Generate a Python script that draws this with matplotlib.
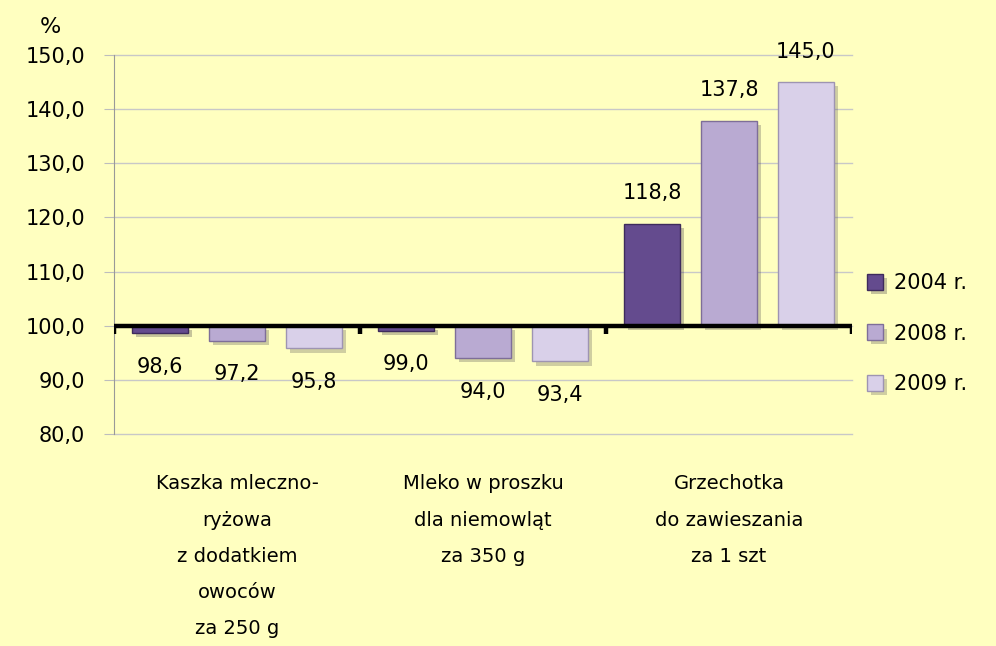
import matplotlib
matplotlib.use('Agg')
import matplotlib.pyplot as plt
import matplotlib.patheffects as pe
import numpy as np

# dane
categories = ['Kaszka mleczno-\nryżowa\nz dodatkiem\nowoców\nza 250 g',
              'Mleko w proszku\ndla niemowląt\nza 350 g',
              'Grzechotka\ndo zawieszania\nza 1 szt']
years = ['2004 r.', '2008 r.', '2009 r.']
v2004 = [98.6, 99.0, 118.8]
v2008 = [97.2, 94.0, 137.8]
v2009 = [95.8, 93.4, 145.0]
yticks = [80, 90, 100, 110, 120, 130, 140, 150]

series = [v2004, v2008, v2009]
faces = ['#644B8E', '#B9AAD2', '#D9D0E9']
edges = ['#3E2B5C', '#7E6E99', '#9E94B2']
bg = '#FFFFC0'
base = 100.0

fig = plt.figure(figsize=(9.96, 6.46), dpi=100, facecolor=bg)
ax = fig.add_axes([114/996, 1-434/646, (852-114)/996, (434-55)/646])
ax.set_facecolor(bg)

x = np.arange(len(categories))
width = 0.228
step = 0.313
shadow = [pe.SimplePatchShadow(offset=(3, -3), alpha=0.25), pe.Normal()]

for i, vals in enumerate(series):
    pos = x + (i - 1) * step
    h = [v - base for v in vals]
    bars = ax.bar(pos, h, width, bottom=base, color=faces[i], edgecolor=edges[i],
                  linewidth=1, label=years[i], zorder=3)
    for b in bars:
        b.set_path_effects(shadow)
    for p, v in zip(pos, vals):
        lab = f'{v:.1f}'.replace('.', ',')
        off = 22 if v >= base else -24
        ax.annotate(lab, (p, v), xytext=(0, off), textcoords='offset points',
                    ha='center', va='center', fontsize=15, zorder=5)

# os 100
ax.axhline(base, color='black', lw=3.2, zorder=4)
ax.vlines(np.arange(len(categories) + 1) - 0.5, base - 1.5, base, color='black', lw=3.2, zorder=4)

ax.set_xlim(-0.5, len(categories) - 0.5)
ax.set_ylim(80, 150)
ax.set_yticks(yticks)
ax.set_yticklabels([f'{t:.1f}'.replace('.', ',') for t in yticks], fontsize=15)
ax.tick_params(axis='y', length=7, color='#BDBDBD', pad=14)
ax.grid(axis='y', color='#C8C8C8', lw=1, zorder=0)
for gl in ax.get_ygridlines():
    gl.set_clip_on(False)

ax.set_xticks(x)
ax.set_xticklabels(categories, fontsize=14, linespacing=2.15)
ax.tick_params(axis='x', length=0, pad=29)

for s in ['top', 'right', 'bottom']:
    ax.spines[s].set_visible(False)
ax.spines['left'].set_color('#999999')

leg = ax.legend(loc='center left', bbox_to_anchor=(1.0, 0.265), frameon=False,
                fontsize=15, handlelength=0.8, handleheight=0.8, labelspacing=1.45,
                handletextpad=0.5, borderaxespad=0.3)

fig.text(50/996, 1-27/646, '%', fontsize=16, ha='center', va='center')

fig.savefig('out.png', dpi=100, facecolor=bg)
